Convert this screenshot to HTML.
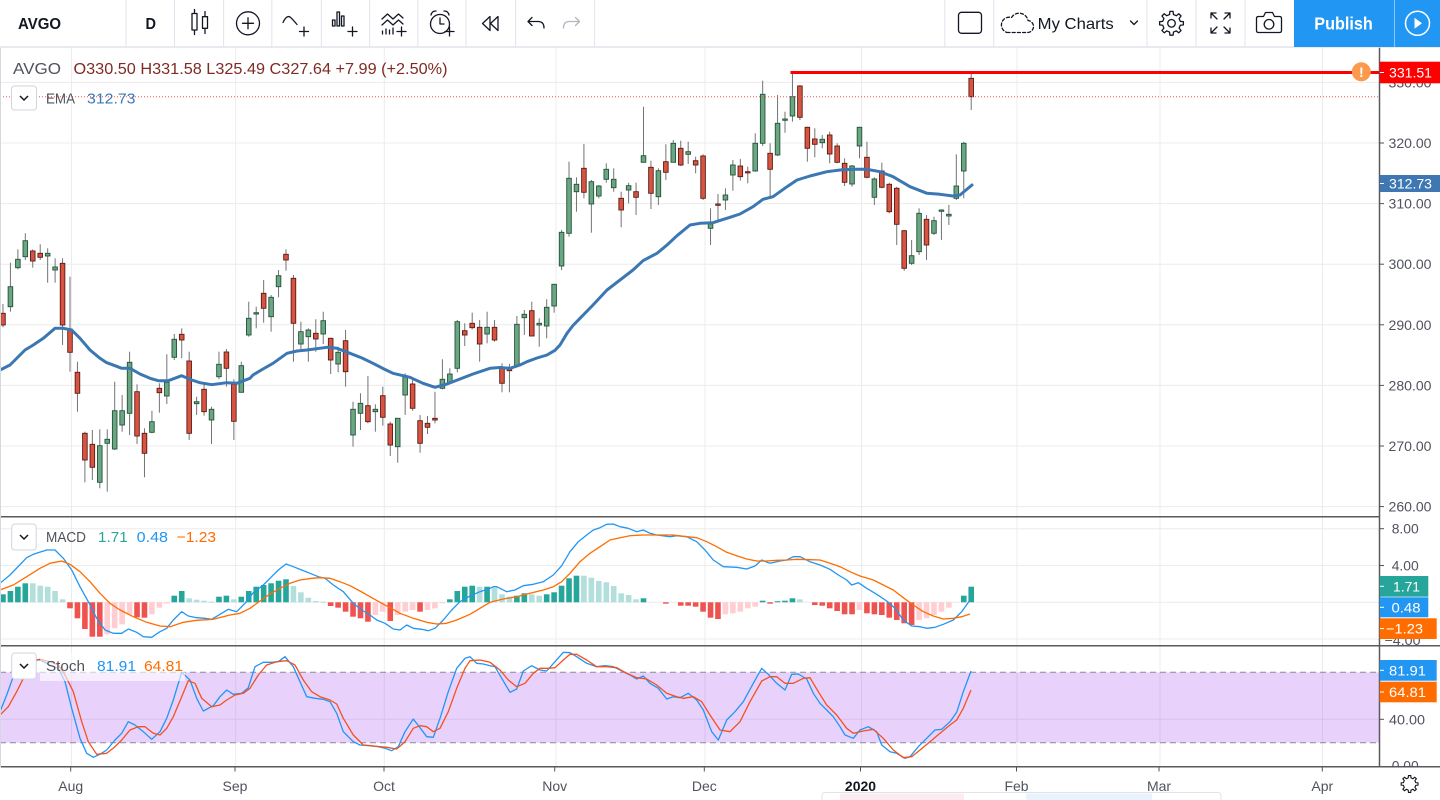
<!DOCTYPE html>
<html><head><meta charset="utf-8">
<style>
html,body{margin:0;padding:0;background:#fff;width:1440px;height:800px;overflow:hidden}
svg{display:block;font-family:"Liberation Sans",Arial,sans-serif}
</style></head><body>
<svg id="c" width="1440" height="800" viewBox="0 0 1440 800" xmlns="http://www.w3.org/2000/svg">
<rect width="1440" height="800" fill="#fff"/>
<g id="grid" stroke="#ececec" stroke-width="1"></g>
<rect x="0" y="672.3" width="1379" height="70.4" fill="rgba(155,60,240,0.23)"/>
<g stroke="#8a8d96" stroke-width="1" stroke-dasharray="6,4">
<line x1="0" y1="672.3" x2="1379" y2="672.3"/>
<line x1="0" y1="742.7" x2="1379" y2="742.7"/>
</g>
<g id="hist"></g>
<polyline id="macd" fill="none" stroke="#2196f3" stroke-width="1.3" stroke-linejoin="round"/>
<polyline id="sig" fill="none" stroke="#ff6d00" stroke-width="1.3" stroke-linejoin="round"/>
<polyline id="stk" fill="none" stroke="#2196f3" stroke-width="1.3" stroke-linejoin="round"/>
<polyline id="std" fill="none" stroke="#f4511e" stroke-width="1.3" stroke-linejoin="round"/>
<g id="candles"></g>
<polyline id="ema" fill="none" stroke="#3a77b3" stroke-width="3" stroke-linejoin="round" stroke-linecap="round"/>
<line x1="0" y1="96.7" x2="1379" y2="96.7" stroke="#ef5350" stroke-width="1" stroke-dasharray="1,2"/>
<line x1="790.5" y1="72.5" x2="1379" y2="72.5" stroke="#ff0000" stroke-width="3"/>
<circle cx="1361.3" cy="71.8" r="9.5" fill="#fb9a4d"/>
<text x="1361.3" y="77" font-size="14" font-weight="bold" fill="#fff" text-anchor="middle">!</text>

<!-- legends -->
<text x="13" y="74" font-size="16" fill="#50535e" textLength="48" lengthAdjust="spacingAndGlyphs">AVGO</text>
<text x="73.5" y="74" font-size="16" fill="#7f2a25" textLength="374" lengthAdjust="spacingAndGlyphs">O330.50 H331.58 L325.49 C327.64 +7.99 (+2.50%)</text>
<rect x="11.5" y="86" width="25" height="24" rx="3" fill="#fff" stroke="#d1d4dc"/>
<polyline points="20,96 24,100 28,96" fill="none" stroke="#131722" stroke-width="1.5"/>
<text x="46" y="103.5" font-size="15" fill="#50535e" textLength="29" lengthAdjust="spacingAndGlyphs">EMA</text>
<text x="87" y="103.5" font-size="15" fill="#3c78b4" textLength="48.5" lengthAdjust="spacingAndGlyphs">312.73</text>

<rect x="11.7" y="524" width="24.5" height="26" rx="3" fill="#fff" stroke="#d1d4dc"/>
<polyline points="20,535 24,539 28,535" fill="none" stroke="#131722" stroke-width="1.5"/>
<text x="46" y="542" font-size="15" fill="#50535e" textLength="40" lengthAdjust="spacingAndGlyphs">MACD</text>
<text x="98" y="542" font-size="15" fill="#26a69a" textLength="29.7" lengthAdjust="spacingAndGlyphs">1.71</text>
<text x="136.7" y="542" font-size="15" fill="#2196f3" textLength="31.3" lengthAdjust="spacingAndGlyphs">0.48</text>
<text x="176.7" y="542" font-size="15" fill="#ff6d00" textLength="39.3" lengthAdjust="spacingAndGlyphs">−1.23</text>

<rect x="40" y="653" width="145" height="28" fill="rgba(255,255,255,0.6)"/>
<rect x="11.7" y="653" width="24.5" height="26" rx="3" fill="#fff" stroke="#d1d4dc"/>
<polyline points="20,664 24,668 28,664" fill="none" stroke="#131722" stroke-width="1.5"/>
<text x="46" y="671" font-size="15" fill="#50535e" textLength="39" lengthAdjust="spacingAndGlyphs">Stoch</text>
<text x="97" y="671" font-size="15" fill="#2196f3" textLength="39" lengthAdjust="spacingAndGlyphs">81.91</text>
<text x="144" y="671" font-size="15" fill="#ff6d00" textLength="39" lengthAdjust="spacingAndGlyphs">64.81</text>

<!-- separators -->
<g stroke="#5a5a5a" stroke-width="1.5">
<line x1="0" y1="516.7" x2="1379.5" y2="516.7"/>
<line x1="0" y1="645.7" x2="1440" y2="645.7"/>
<line x1="0" y1="766.7" x2="1440" y2="766.7"/>
<line x1="1379.5" y1="47" x2="1379.5" y2="800"/>
</g>
<line x1="0.5" y1="47" x2="0.5" y2="800" stroke="#d6d8e0"/>

<!-- axis labels -->
<g id="axis" font-size="14" fill="#50535e"></g>

<!-- price labels -->
<rect x="1379.7" y="61.7" width="60.3" height="21.6" fill="#ff0000"/>
<line x1="1380" y1="72.5" x2="1384" y2="72.5" stroke="#fff"/>
<text x="1389" y="77.5" font-size="14" fill="#fff" textLength="43" lengthAdjust="spacingAndGlyphs">331.51</text>
<rect x="1379.7" y="175" width="60.3" height="17" fill="#3e77b1"/>
<line x1="1380" y1="183.5" x2="1384" y2="183.5" stroke="#fff"/>
<text x="1389" y="188.5" font-size="14" fill="#fff" textLength="43" lengthAdjust="spacingAndGlyphs">312.73</text>
<rect x="1379.7" y="576" width="48.6" height="20.7" fill="#26a69a"/>
<text x="1393" y="591.3" font-size="14" fill="#fff" textLength="27" lengthAdjust="spacingAndGlyphs">1.71</text>
<rect x="1379.7" y="597.3" width="48.6" height="20" fill="#2196f3"/>
<text x="1391.5" y="612.3" font-size="14" fill="#fff" textLength="29" lengthAdjust="spacingAndGlyphs">0.48</text>
<rect x="1379.7" y="618.3" width="57" height="20.7" fill="#ff6d00"/>
<text x="1386" y="633.5" font-size="14" fill="#fff" textLength="37" lengthAdjust="spacingAndGlyphs">−1.23</text>
<rect x="1379.7" y="660" width="57" height="20.7" fill="#2196f3"/>
<text x="1389" y="675.3" font-size="14" fill="#fff" textLength="37" lengthAdjust="spacingAndGlyphs">81.91</text>
<rect x="1379.7" y="681.7" width="57" height="20.6" fill="#ff6d00"/>
<text x="1389" y="697" font-size="14" fill="#fff" textLength="37" lengthAdjust="spacingAndGlyphs">64.81</text>
<g stroke="#fff"><line x1="1380" y1="586.3" x2="1384" y2="586.3"/><line x1="1380" y1="607.3" x2="1384" y2="607.3"/><line x1="1380" y1="628.6" x2="1384" y2="628.6"/><line x1="1380" y1="670.3" x2="1384" y2="670.3"/><line x1="1380" y1="692" x2="1384" y2="692"/></g>

<!-- time axis gear -->
<g id="gear2" fill="none" stroke="#131722" stroke-width="1.1"></g>

<!-- bottom panel -->
<rect x="822" y="792.5" width="399" height="12" rx="3" fill="#fff" stroke="#e0e3eb"/>
<rect x="840" y="793.5" width="124" height="8" fill="#fdecef"/>
<rect x="1026" y="793.5" width="126" height="8" fill="#e9f3fd"/>

<!-- toolbar -->
<rect x="0" y="0" width="1440" height="47" fill="#fff"/>
<line x1="0" y1="47" x2="1440" y2="47" stroke="#e0e3eb" stroke-width="1.5"/>
<g id="tbsep" stroke="#e0e3eb" stroke-width="1"></g>
<text x="18" y="29" font-size="16" font-weight="bold" fill="#131722" textLength="43" lengthAdjust="spacingAndGlyphs">AVGO</text>
<text x="145.5" y="29" font-size="16" font-weight="bold" fill="#131722" textLength="10.5" lengthAdjust="spacingAndGlyphs">D</text>
<g fill="none" stroke="#131722" stroke-width="1.3" stroke-linecap="round" stroke-linejoin="round">
<line x1="194.5" y1="9.5" x2="194.5" y2="34.5"/><rect x="192" y="13.5" width="5" height="16.5" fill="#fff"/>
<line x1="205" y1="11.5" x2="205" y2="33.5"/><rect x="202.5" y="16.7" width="5" height="11.6" fill="#fff"/>
<circle cx="248" cy="23.3" r="11.5"/><line x1="242.5" y1="23.3" x2="253.5" y2="23.3"/><line x1="248" y1="17.8" x2="248" y2="28.8"/>
<path d="M283 22.5 Q286.5 15 290 17 Q292 18.5 297 24.5"/><line x1="299.5" y1="31.5" x2="308.5" y2="31.5"/><line x1="304" y1="27" x2="304" y2="36"/>
<rect x="332.5" y="20" width="2.5" height="6"/><rect x="337" y="12" width="2.5" height="14"/><rect x="341.5" y="16" width="2.5" height="10"/>
<line x1="348" y1="31.5" x2="357" y2="31.5"/><line x1="352.5" y1="27" x2="352.5" y2="36"/>
<polyline points="382,19 387.5,14 393,19 398.5,14 403,18"/><polyline points="382,25 387.5,20 393,25 398.5,20 403,24"/>
<line x1="382.5" y1="34" x2="382.5" y2="31"/><line x1="386" y1="34" x2="386" y2="29"/><line x1="389.5" y1="34" x2="389.5" y2="30"/><line x1="393" y1="34" x2="393" y2="28"/>
<line x1="397" y1="31.5" x2="406" y2="31.5"/><line x1="401.5" y1="27" x2="401.5" y2="36"/>
<circle cx="440" cy="24" r="9.5"/><path d="M431 15 A4.5 4.5 0 0 1 436 11"/><path d="M444 11 A4.5 4.5 0 0 1 449 15"/>
<polyline points="440,18 440,24 444,24"/>
<line x1="445" y1="31.5" x2="454" y2="31.5"/><line x1="449.5" y1="27" x2="449.5" y2="36"/>
<polygon points="490,16.5 482.5,23.5 490,30.5"/><polygon points="498,16.5 490.5,23.5 498,30.5"/>
<path d="M532 17.5 L528 21.5 L532 25.5 M528 21.5 H538 Q544 21.5 544 28"/>
</g>
<path d="M575.5 17.5 L579.5 21.5 L575.5 25.5 M579.5 21.5 H569.5 Q563.5 21.5 563.5 28" fill="none" stroke="#b2b5be" stroke-width="1.3" stroke-linecap="round" stroke-linejoin="round"/>

<g fill="none" stroke="#131722" stroke-width="1.3" stroke-linecap="round" stroke-linejoin="round">
<rect x="958.5" y="12.3" width="23" height="21" rx="3"/>
<path d="M1007 32.5 H1027 A6 6 0 0 0 1028 20.5 A9 9 0 0 0 1011.5 17.5 A7.5 7.5 0 0 0 1007 32.5 Z" stroke-dasharray="3,2.2"/>
<polyline points="1130.5,21 1134,24.5 1137.5,21"/>
<path d="M1211 18 V13 H1216 M1211 13 L1217 19 M1225 13 H1230 V18 M1230 13 L1224 19 M1211 28 V33 H1216 M1211 33 L1217 27 M1225 33 H1230 V28 M1230 33 L1224 27"/>
<path d="M1258.5 16.5 H1263.5 L1265.5 12.5 H1272.5 L1274.5 16.5 H1279.5 Q1281.5 16.5 1281.5 18.5 V30.5 Q1281.5 32.5 1279.5 32.5 H1258.5 Q1256.5 32.5 1256.5 30.5 V18.5 Q1256.5 16.5 1258.5 16.5 Z"/>
<circle cx="1269" cy="24.3" r="4.8"/>
</g>
<g id="gear1" fill="none" stroke="#131722" stroke-width="1.3" stroke-linejoin="round"></g>
<text x="1037.7" y="29" font-size="16" fill="#131722" textLength="76" lengthAdjust="spacingAndGlyphs">My Charts</text>
<rect x="1294" y="0" width="146" height="47" fill="#2196f3"/>
<line x1="1394.5" y1="0" x2="1394.5" y2="47" stroke="#8cc8f8" stroke-width="1"/>
<text x="1314.3" y="29.5" font-size="17.5" font-weight="bold" fill="#fff" textLength="58.5" lengthAdjust="spacingAndGlyphs">Publish</text>
<circle cx="1417.5" cy="23.3" r="12" fill="none" stroke="#fff" stroke-width="1.5"/>
<polygon points="1414.5,17.8 1422,23.3 1414.5,28.8" fill="#fff"/>
</svg>
<script>
(function(){
var NS="http://www.w3.org/2000/svg";
function el(tag,attrs,parent){var e=document.createElementNS(NS,tag);for(var k in attrs)e.setAttribute(k,attrs[k]);parent.appendChild(e);return e;}
function $(id){return document.getElementById(id);}
function X(i){return 2.97+7.448*i;}

var g=$('grid');
var vx=[71.5,235.7,384.3,556,705,861.5,1017,1160,1322.5];
vx.forEach(function(x){el('line',{x1:x,y1:47,x2:x,y2:767},g);});
[82.4,143,203.6,264.2,324.8,385.4,446,506.6].forEach(function(y){el('line',{x1:0,y1:y,x2:1379,y2:y},g);});
[528.7,565.5,602.3,639].forEach(function(y){el('line',{x1:0,y1:y,x2:1379,y2:y},g);});
[719.3].forEach(function(y){el('line',{x1:0,y1:y,x2:1379,y2:y},g);});

var ts=$('tbsep');
[126,174.5,223.6,271.8,321.4,369.6,417.8,466,515.6,594.6,944.8,993.7,1147,1196,1245].forEach(function(x){el('line',{x1:x,y1:0,x2:x,y2:47},ts);});

var C=[
[0,0,313.3,325,304,327.3],[1,1,286.7,306.7,262.7,311.7],[2,1,259.3,267.7,249.3,269.3],[3,1,240.7,256.7,233.3,260],
[4,0,251,261,249.3,267.7],[5,0,253.3,257.3,244.3,260],[6,1,253.3,256,248.3,282.7],[7,1,267,270,258.3,282.7],
[8,0,263.3,325,258.3,345],[9,0,329.3,352.3,276.7,371.7],[10,0,372.3,393.3,361.7,411.7],[11,0,433.3,460,431.7,482.3],
[12,0,444.3,467.3,430,480],[13,1,445.7,482.3,429.3,488.3],[14,1,439.3,443.3,429.3,491.7],[15,1,410.7,449,381.7,450],
[16,1,410.7,425,395,431.7],[17,1,362.3,413.3,351.7,435],[18,0,391.7,436,384.3,444],[19,0,433.3,453.3,428.3,477.3],
[20,1,421.7,432.3,410.7,433.3],[21,0,388.3,392.7,383.3,412.7],[22,1,382.3,396,354.3,404],[23,1,339.3,357.3,334,360],
[24,0,334.3,340,328.3,358.3],[25,0,361,433.3,351.7,440],[26,1,401.7,403.7,396.7,415],[27,0,389.3,411.7,384.3,415.7],
[28,1,409.3,420,406.7,444],[29,1,364.3,376.7,351.7,379.3],[30,0,352,368.3,349,386.7],[31,0,384.3,421.3,379.3,440],
[32,1,365.7,392.3,361.7,392.3],[33,1,318.3,335,301.7,336.7],[34,1,312.7,314,306.7,328.3],[35,0,293.3,308.3,280,322.7],
[36,1,297.3,316.7,295,331.7],[37,1,275.7,286.7,270,297.3],[38,0,254.3,260,249.3,270.7],[39,0,278.3,323.3,275,361.7],
[40,1,331.7,344,321.7,350],[41,1,330,336.7,328.3,361.7],[42,0,333.3,339,319.3,351.7],[43,1,320.7,334,311.7,344],
[44,0,338.3,360,337.7,374],[45,1,352.3,364,346.7,372.3],[46,0,340.7,371.7,330,386.7],[47,1,409.3,435,401.7,446.7],
[48,1,403.3,413.3,393.3,430],[49,0,405.7,421.7,376,423.3],[50,1,409.3,411.7,404.3,431.7],[51,0,395.7,417.3,386.7,425.7],
[52,0,424,445,421.7,456],[53,1,418.3,446.7,418.3,462.7],[54,1,376.7,395,373.3,415],[55,0,384,408.3,378.3,410.7],
[56,0,420.7,443.3,415,452.7],[57,0,423.3,427.3,416,434],[58,0,418.3,420,391.7,423.3],[59,1,379.3,388.3,359.3,389.3],
[60,1,374,382.7,368.3,383.3],[61,1,321.7,368.3,320,372.3],[62,0,330.7,335,323.3,346],[63,0,323.3,327.7,312.7,329.3],
[64,0,327.3,344,320,361.7],[65,1,327.3,334,311.7,343.3],[66,0,327.3,340,320,341.7],[67,0,367.3,383.3,363.3,392.3],
[68,0,367.3,370.7,364,392.3],[69,1,324.3,365.7,316,366.7],[70,1,314.3,317.7,310,335],[71,0,310.7,336,301.7,336],
[72,1,323.3,325,318.3,346.7],[73,1,307.3,326,299.3,338.3],[74,1,284.3,306,284.3,312.7],[75,1,232.3,266,230,270],
[76,1,178.3,233.3,161.7,236.7],[77,1,184.3,191.7,177.3,211.7],[78,0,168.3,192.3,144,198.3],[79,1,181.7,204,180,232.7],
[80,1,186,196,185,198.3],[81,1,169.3,179.3,163.3,182.7],[82,1,179.3,187.7,168.3,191.7],[83,0,198.3,210,191.7,227.3],
[84,1,185.7,190,182.7,203.3],[85,0,191.7,197.3,182.7,215],[86,1,155.7,162.3,106.7,162.7],[87,0,167.3,193.3,160.7,209],
[88,1,170.7,196.7,168.3,205],[89,0,161.7,172.3,144.3,180],[90,1,143.3,162.3,140,162.3],[91,0,148.3,165,140.7,166],
[92,1,151.7,154.3,141.7,164],[93,0,160.7,165,156.7,173.3],[94,0,156,198.3,154.3,200],[95,1,224,228.3,208.3,245],
[96,0,204,205.3,194,220.7],[97,1,195,200,188.3,210],[98,1,165,175,160,190.7],[99,0,166,176.7,159,180.7],
[100,0,171.7,172.7,166.7,183.3],[101,1,143.3,171,133.3,171.7],[102,1,94.3,143.3,80.7,146],[103,0,153.3,169.3,143.3,197.3],
[104,1,123.3,155,95,156],[105,1,119,120.3,111.7,132.7],[106,1,96.7,116,73.3,121.7],[107,0,86,117.3,85,120],
[108,0,127.3,148.3,126.7,161.7],[109,0,139,144.3,128.3,157.3],[110,1,139.3,142.7,135,148.3],[111,0,135,154,131.7,163.3],
[112,0,146,162.3,143.3,163.3],[113,0,163.3,182.3,158.3,186],[114,1,166,184,165,186.7],[115,1,127.3,146,126.7,158.3],
[116,0,157.3,177.3,141.7,178.3],[117,1,179,197.3,177.3,205],[118,0,171,187.3,162.7,188.3],[119,0,184.3,211.7,182.7,213.3],
[120,0,188.3,224.3,186.7,245],[121,0,230.7,268.3,230,270.7],[122,1,255.7,263.3,240,265],[123,1,213.3,251.7,208.3,255],
[124,0,219.3,245,215,260],[125,1,220.7,233.3,216.7,235],[126,1,210,211.3,209.3,240],[127,1,214.3,216,205,225],
[128,1,186,198.3,154.3,200],[129,1,143.3,171,141.7,198.3],[130,0,78.3,96.7,73.3,110]
];
var cg=$('candles');
C.forEach(function(c){
  var x=X(c[0]);
  el('line',{x1:x,y1:c[4],x2:x,y2:c[5],stroke:'#737375','stroke-width':1},cg);
  var h=Math.max(c[3]-c[2],1.2);
  el('rect',{x:x-2.3,y:c[2],width:4.6,height:h,fill:c[1]?'#6ba583':'#d75442',stroke:c[1]?'#225437':'#5b1a13','stroke-width':0.9},cg);
});

var E=[[0,370],[10,365],[25,350],[33.3,345],[43.3,338.3],[55,328.3],[63.3,328.3],[71.7,330],[80,338.3],[90,350],[100,358.3],[106.7,362.7],[115,365.7],[121.7,368.3],[130,368.3],[140,374],[150,378.3],[158.3,380.7],[168.3,380.7],[181.7,375.7],[191.7,380],[200,382.7],[211.7,384.7],[226.7,382.7],[236.7,383.3],[250,378.3],
[253,375],[263,369],[273,363.3],[287,353.3],[297,351],[307,350],[327,347.3],[337,348.3],[350,353.3],[362,358],[373,363.3],[383,368.5],[393,373.3],[410,377.3],[423,383.3],[435,387.3],[447,384],[460,379],[473,374],[490,368.3],
[500,367.5],[510,368.3],[520,365],[527,361.7],[537,358],[547,355],[555,350.3],[560,345],[567,333.3],[573,325.5],[580,318.3],[593,305],[607,290],[620,280],[633,270],[643,260.7],[657,253.3],[667,245],[677,235.7],[690,225],[700,223.3],[713,222.7],[722,219.8],[730,217.3],
[740,214],[753,206.7],[763,199.3],[773,196.7],[787,186.7],[797,180],[810,176],[827,171.7],[840,170],[853,169.3],[867,169.3],[880,171.7],[893,176.7],[910,186.7],[927,193.3],[940,194.3],[953,196],[960,195],[972,185]];
$('ema').setAttribute('points',E.map(function(p){return p[0]+','+p[1];}).join(' '));

var Z=602.3;
var COL={D:'#26a69a',L:'#b2dfdb',R:'#ef5350',P:'#ffcdd2'};
var H=[[0,'D',594.3],[1,'D',591],[2,'D',586.7],[3,'D',583.3],[4,'L',583.3],[5,'L',585.7],[6,'L',586.7],[7,'L',591],[8,'L',599.3],
[9,'R',608.3],[10,'R',618.3],[11,'R',629],[12,'R',636.7],[13,'R',636.7],[14,'P',634.3],[15,'P',628.3],[16,'P',624.3],[17,'P',614.3],[18,'R',617.3],[19,'R',617.7],[20,'P',614.3],[21,'P',607.7],[22,'P',603.5],
[23,'D',595.7],[24,'D',591],[25,'L',598.3],[26,'L',599.7],[27,'L',600.7],[28,'L',601.6],[29,'D',596.7],[30,'D',595.7],[31,'L',599.3],[32,'D',596.7],[33,'D',591],[34,'D',586.7],[35,'D',585],[36,'D',583.3],[37,'D',580.7],[38,'D',579.3],[39,'L',586],[40,'L',592.3],[41,'L',597.7],[42,'L',601],[43,'L',601.6],
[44,'R',606],[45,'R',607.7],[46,'R',611.7],[47,'R',616.7],[48,'R',618.3],[49,'R',621.7],[50,'P',615],[51,'P',611.7],[52,'R',621],[53,'P',615],[54,'P',611.7],[55,'P',610],[56,'R',611.7],[57,'P',610],[58,'P',608.3],[59,'P',603],
[60,'D',599.3],[61,'D',591],[62,'D',586.7],[63,'D',585.7],[64,'L',586.7],[65,'D',586.7],[66,'L',587.7],[67,'L',594.3],[68,'L',596.7],[69,'D',595.7],[70,'D',593.3],[71,'L',594.3],[72,'L',595.7],[73,'D',594.3],[74,'D',592.3],[75,'D',585.7],[76,'D',578.3],[77,'D',575.7],[78,'L',575.7],[79,'L',577.7],[80,'L',581],[81,'L',582.3],[82,'L',586],[83,'L',593.3],[84,'L',595],[85,'L',599.3],[86,'D',598.3],
[89,'R',603.7],[91,'R',605.7],[92,'R',605.7],[93,'R',606.7],[94,'R',611.7],[95,'R',617.7],[96,'R',619],[97,'P',614.3],[98,'P',613.3],[99,'P',611.7],[100,'P',608.3],[101,'P',606.7],[102,'D',600.7],[103,'R',603.7],[104,'D',601.2],[105,'D',600.7],[106,'D',598.3],[107,'L',599.3],
[109,'R',605],[110,'R',605.7],[111,'R',608.3],[112,'R',611],[113,'R',614.3],[114,'R',614.3],[115,'P',610],[116,'R',613.3],[117,'R',614.3],[118,'R',615],[119,'R',617.7],[120,'R',620],[121,'R',623.3],[122,'R',625],[123,'P',620],[124,'P',618.3],[125,'P',615],[126,'P',611.7],[127,'P',607.7],
[129,'D',595.7],[130,'D',586.7]];
var hg=$('hist');
H.forEach(function(h){
  var x=X(h[0]);var y0=Math.min(h[2],Z),y1=Math.max(h[2],Z);
  el('rect',{x:x-2.8,y:y0,width:5.6,height:Math.max(y1-y0,1),fill:COL[h[1]]},hg);
});

function conv(a,off){return a.map(function(p){return (off+p[0]/3).toFixed(1)+','+(515+p[1]/3).toFixed(1);});}
var mb8=[[0,205],[30,180],[80,128],[100,118],[140,105],[165,105],[190,130],[215,165],[240,215],[265,260],[290,310],[315,345],[340,355],[365,355],[385,342],[410,352],[430,365],[455,367],[480,350],[500,340],[520,315],[545,290],[565,303],[590,308],[615,310],[635,313],[660,298],[685,283],[710,290],[735,265],[760,233],[790,210],[810,190],[835,165],[858,147],[880,155],[905,165],[930,175],[955,185],[975,190],[1000,210],[1030,230],[1060,265],[1085,285],[1110,300],[1130,315],[1155,325],[1180,342],[1200,345],[1220,330],[1240,340],[1265,343],[1285,347],[1305,340],[1330,315],[1355,285],[1380,260],[1410,243],[1440,230],[1470,220]];
var mb9=[[10,215],[20,215],[50,230],[75,225],[100,212],[130,208],[160,200],[190,180],[215,152],[240,110],[265,80],[290,60],[310,45],[330,38],[350,28],[370,27],[390,35],[415,40],[440,50],[460,45],[480,55],[500,60],[540,65],[560,62],[590,65],[620,80],[645,105],[670,135],[700,155],[740,157],[770,162],[795,153],[815,135],[840,145],[870,138],[890,135],[910,125],[930,125],[960,140],[990,150],[1020,163],[1045,180],[1070,195],[1085,210],[1105,203],[1130,220],[1160,238],[1190,258],[1215,280],[1240,315],[1265,333],[1290,335],[1310,340],[1335,337],[1360,328],[1390,315],[1415,290],[1440,255]];
var ms8=[[0,225],[40,210],[80,185],[120,160],[150,145],[185,138],[210,148],[240,170],[270,200],[300,235],[330,265],[360,285],[400,305],[440,322],[480,333],[510,335],[550,322],[590,316],[640,313],[690,300],[720,295],[750,280],[780,258],[810,237],[840,220],[870,205],[900,195],[935,190],[960,188],[990,190],[1020,200],[1050,212],[1080,228],[1110,245],[1140,262],[1170,278],[1200,295],[1240,310],[1280,322],[1310,327],[1340,325],[1370,315],[1410,298],[1440,280],[1470,262]];
var ms9=[[40,252],[80,245],[120,235],[160,225],[190,215],[215,200],[240,175],[270,140],[300,115],[330,95],[360,75],[390,68],[420,62],[460,60],[500,60],[550,60],[580,64],[620,68],[650,80],[680,95],[710,112],[740,122],[770,132],[800,138],[830,138],[860,136],[890,135],[920,133],[960,134],[990,135],[1020,145],[1050,155],[1080,170],[1110,183],[1150,195],[1180,210],[1210,225],[1240,248],[1270,270],[1300,290],[1330,303],[1360,312],[1390,310],[1415,305],[1440,297]];
$('macd').setAttribute('points',conv(mb8,0).concat(conv(mb9,490)).join(' '));
$('sig').setAttribute('points',conv(ms8,0).concat(conv(ms9,490)).join(' '));

var k8=[[0,590],[20,540],[45,470],[70,440],[90,432],[120,435],[150,450],[175,460],[195,500],[215,580],[240,670],[260,715],[280,727],[300,718],[320,705],[345,675],[365,655],[385,620],[405,630],[430,650],[455,673],[480,650],[500,610],[520,555],[545,472],[570,495],[590,550],[610,588],[640,572],[660,545],[680,525],[700,538],[725,535],[745,518],[765,455],[790,442],[815,442],[835,440],[855,425],[880,455],[900,500],[920,545],[945,550],[970,553],[990,560],[1010,595],[1030,650],[1060,680],[1080,690],[1110,692],[1135,695],[1155,700],[1175,707],[1195,695],[1215,650],[1240,612],[1260,638],[1280,665],[1300,667],[1320,610],[1345,530],[1370,460],[1395,430],[1410,425],[1430,445],[1450,447],[1470,452]];
var k9=[[15,455],[35,490],[60,532],[80,522],[100,468],[125,452],[150,465],[170,468],[195,440],[220,412],[240,413],[260,425],[290,445],[320,455],[345,452],[370,455],[400,470],[420,480],[440,492],[460,483],[480,505],[505,520],[530,552],[550,545],[570,548],[595,535],[620,555],[640,585],[665,650],[685,675],[710,615],[735,590],[760,560],[790,505],[815,460],[835,478],[860,505],[885,525],[905,478],[925,477],[950,492],[970,535],[990,565],[1010,585],[1030,605],[1050,635],[1065,660],[1090,670],[1110,645],[1135,635],[1160,650],[1175,690],[1200,710],[1220,715],[1245,730],[1260,725],[1285,695],[1310,670],[1335,645],[1355,643],[1380,620],[1400,592],[1420,530],[1443,468]];
var d8=[[0,600],[25,575],[50,530],[75,480],[95,440],[120,433],[150,440],[175,450],[195,480],[220,530],[245,620],[265,680],[290,718],[320,715],[345,695],[365,675],[390,645],[415,635],[435,635],[460,655],[480,660],[500,640],[520,605],[545,545],[565,497],[585,505],[605,550],[635,575],[660,570],[680,555],[705,540],[730,535],[750,520],[775,480],[800,450],[830,440],[860,437],[885,450],[910,495],[935,530],[960,545],[990,555],[1010,567],[1030,610],[1060,660],[1090,690],[1120,693],[1160,697],[1190,702],[1215,680],[1240,640],[1260,632],[1280,635],[1300,650],[1320,640],[1345,590],[1370,520],[1395,460],[1410,437],[1440,435],[1470,442]];
var d9=[[30,465],[55,495],[80,515],[105,505],[130,475],[150,460],[175,460],[195,458],[220,435],[240,418],[260,418],[290,435],[320,455],[350,455],[380,458],[410,475],[440,488],[470,492],[500,510],[530,535],[560,545],[580,550],[610,545],[635,560],[660,600],[690,645],[720,650],[750,620],[780,560],[815,498],[840,485],[860,485],[885,505],[910,505],[940,490],[960,488],[985,530],[1010,570],[1040,600],[1070,640],[1090,655],[1120,648],[1150,643],[1180,670],[1210,705],[1240,728],[1265,725],[1290,705],[1320,680],[1350,655],[1380,630],[1400,615],[1420,580],[1443,525]];
$('stk').setAttribute('points',conv(k8,0).concat(conv(k9,490)).join(' '));
$('std').setAttribute('points',conv(d8,0).concat(conv(d9,490)).join(' '));

var ax=$('axis');
function t(x,y,s,opt){var e=el('text',{x:x,y:y},ax);e.textContent=s;if(opt)for(var k in opt)e.setAttribute(k,opt[k]);return e;}
var PL=[[82.4,'330.00'],[143,'320.00'],[203.6,'310.00'],[264.2,'300.00'],[324.8,'290.00'],[385.4,'280.00'],[446,'270.00'],[506.6,'260.00']];
PL.forEach(function(p){t(1388.5,p[0]+5,p[1],{textLength:43,lengthAdjust:'spacingAndGlyphs'});el('line',{x1:1379.5,y1:p[0],x2:1384,y2:p[0],stroke:'#50535e'},ax);});
[[528.7,'8.00'],[565.5,'4.00']].forEach(function(p){t(1391.7,p[0]+5,p[1],{textLength:27,lengthAdjust:'spacingAndGlyphs'});el('line',{x1:1379.5,y1:p[0],x2:1384,y2:p[0],stroke:'#50535e'},ax);});
t(1384.5,645,'−4.00',{textLength:36,lengthAdjust:'spacingAndGlyphs'});
t(1389,724.3,'40.00',{textLength:36,lengthAdjust:'spacingAndGlyphs'});el('line',{x1:1379.5,y1:719.3,x2:1384,y2:719.3,stroke:'#50535e'},ax);
t(1391.7,770.5,'0.00',{textLength:27,lengthAdjust:'spacingAndGlyphs'});
el('rect',{x:0,y:767.5,width:1440,height:33,fill:'#fff'},ax);
var TL=[[70.7,'Aug'],[235,'Sep'],[384,'Oct'],[554.7,'Nov'],[704.3,'Dec'],[860.5,'2020'],[1016.5,'Feb'],[1159,'Mar'],[1322.3,'Apr']];
TL.forEach(function(p){var e=t(p[0],791,p[1],{'text-anchor':'middle'});if(p[1]==='2020'){e.setAttribute('font-weight','bold');e.setAttribute('fill','#131722');}
 el('line',{x1:p[0],y1:767,x2:p[0],y2:771.5,stroke:'#50535e'},ax);});

function gearPath(cx,cy,ro,ri,n){var d='',st=2*Math.PI/n;for(var k=0;k<n;k++){var a=k*st-Math.PI/2;
 var pts=[[ri,a-st*0.28],[ro,a-st*0.17],[ro,a+st*0.17],[ri,a+st*0.28]];
 pts.forEach(function(p,j){var x=cx+p[0]*Math.cos(p[1]),y=cy+p[0]*Math.sin(p[1]);d+=(k===0&&j===0?'M':'L')+x.toFixed(2)+' '+y.toFixed(2)+' ';});}
 return d+'Z';}
el('path',{d:gearPath(1171.5,23.3,12,9,8)},$('gear1'));
el('circle',{cx:1171.5,cy:23.3,r:3.8},$('gear1'));
el('path',{d:gearPath(1409.6,784,8.5,6.3,8)},$('gear2'));
})();
</script>
</body></html>
